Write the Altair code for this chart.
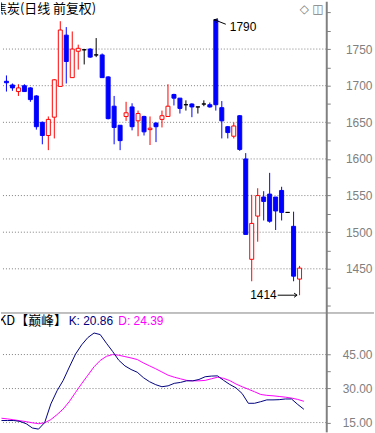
import altair as alt
import pandas as pd
import numpy as np

# ---------------- data ----------------
opens = [1706, 1701, 1692, 1700, 1697, 1686, 1650, 1632, 1657, 1699,
         1769, 1711, 1747, 1749, 1750, 1742, 1742, 1712, 1672, 1646,
         1658, 1671, 1652, 1658, 1640, 1649, 1654, 1658, 1688, 1683,
         1674, 1675, 1671, 1675, 1674, 1790, 1670, 1644, 1631, 1659,
         1600, 1463, 1522, 1548, 1552, 1548, 1557, 1527, 1508, 1436]
highs = [1714, 1703, 1702, 1702, 1698, 1687, 1651, 1658, 1709, 1788,
         1780, 1774, 1756, 1750, 1751, 1765, 1744, 1713, 1686, 1646,
         1678, 1676, 1666, 1659, 1658, 1650, 1666, 1702, 1689, 1683,
         1680, 1676, 1671, 1680, 1677, 1790, 1679, 1645, 1650, 1660,
         1608, 1551, 1560, 1556, 1581, 1548, 1562, 1527, 1528, 1454]
lows = [1692, 1693, 1686, 1692, 1678, 1640, 1620, 1612, 1628, 1699,
        1703, 1711, 1722, 1729, 1738, 1739, 1711, 1654, 1620, 1612,
        1652, 1639, 1631, 1632, 1619, 1623, 1643, 1658, 1673, 1662,
        1666, 1657, 1662, 1672, 1670, 1666, 1628, 1628, 1628, 1611,
        1497, 1433, 1487, 1516, 1513, 1503, 1516, 1527, 1433, 1414]
closes = [1704, 1697, 1697, 1692, 1681, 1644, 1632, 1654, 1708, 1776,
          1733, 1750, 1751, 1749, 1739, 1742, 1711, 1655, 1643, 1625,
          1663, 1644, 1662, 1637, 1642, 1644, 1659, 1672, 1683, 1669,
          1674, 1671, 1671, 1675, 1671, 1674, 1652, 1636, 1645, 1613,
          1497, 1512, 1550, 1542, 1515, 1529, 1527, 1527, 1440, 1451]

k_vals = [15.9, 15.9, 15.9, 15.5, 14.5, 12.6, 12.1, 15.0, 23.2, 29.0,
          33.6, 39.5, 45.2, 49.3, 52.5, 54.5, 53.8, 50.0, 46.4, 42.5,
          40.0, 38.4, 37.2, 34.8, 33.0, 31.7, 30.8, 31.2, 32.3, 32.7,
          33.4, 33.4, 34.0, 35.2, 35.5, 35.6, 33.6, 31.8, 30.3, 27.8,
          23.5, 23.5, 24.2, 25.0, 25.0, 25.1, 25.4, 25.4, 23.0, 20.86]
d_vals = [16.9, 16.6, 16.2, 15.8, 15.4, 14.9, 14.5, 14.9, 16.3, 18.5,
          21.0, 24.3, 28.3, 32.2, 35.9, 39.6, 42.4, 44.2, 45.0, 44.7,
          44.1, 43.5, 42.8, 41.3, 40.0, 38.7, 37.3, 35.9, 35.0, 34.3,
          33.6, 33.4, 33.4, 33.6, 34.3, 35.0, 34.5, 33.5, 32.0, 30.8,
          29.7, 28.6, 27.4, 27.0, 26.8, 26.5, 26.2, 25.8, 25.2, 24.39]

price_ticks = [1400, 1425, 1450, 1475, 1500, 1525, 1550, 1575, 1600, 1625,
               1650, 1675, 1700, 1725, 1750, 1775, 1800]
price_grid = [1450, 1500, 1550, 1600, 1650, 1700, 1750]
kd_ticks = [15, 22.5, 30, 37.5, 45]
kd_grid = [15, 30, 45]

title_text = "焦炭(日线 前复权)"
kd_name = "KD【巅峰】"
k_label = "K: 20.86"
d_label = "D: 24.39"
high_idx, high_val, high_txt = 35, 1790, "1790"
low_idx, low_val, low_txt = 49, 1414, "1414"

# ---------------- frames ----------------
df = pd.DataFrame({"i": list(range(len(opens))), "open": opens, "high": highs,
                   "low": lows, "close": closes, "k": k_vals, "d": d_vals})
df["dir"] = np.where(df["close"] > df["open"], "up",
                     np.where(df["close"] < df["open"], "down", "flat"))

GRAY = "#808080"
W = 327
H1 = 313
H2 = 120

xscale = alt.Scale(domain=[-0.0806, 52.63], nice=False, zero=False)
pscale = alt.Scale(domain=[1390.4, 1815.4], nice=False, zero=False)
kscale = alt.Scale(domain=[10.9, 63.55], nice=False, zero=False)
stroke_scale = alt.Scale(domain=["up", "down", "flat"], range=["#ff0000", "#0000ff", "#000000"])
fill_scale = alt.Scale(domain=["up", "down", "flat"], range=["#ffffff", "#0000ff", "#000000"])

axis_common = dict(orient="right", grid=False, title=None, domainColor=GRAY, domainWidth=2,
                   tickColor=GRAY, tickSize=4, tickWidth=1, labelColor=GRAY,
                   labelFont="Liberation Sans", labelFontSize=12, labelAlign="right",
                   labelBaseline="middle", labelPadding=42, labelFlush=False,
                   labelOverlap=False)
price_axis = alt.Axis(values=price_ticks,
                      labelExpr="(datum.value % 50 == 0 && datum.value >= 1450 && datum.value <= 1750) ? datum.label : ''",
                      format="d", **axis_common)
kd_axis = alt.Axis(values=kd_ticks,
                   labelExpr="(datum.value % 15 == 0) ? format(datum.value, '.2f') : ''",
                   **axis_common)

X = alt.X("i:Q", scale=xscale, axis=None)


def PY(f):
    return alt.Y(f, type="quantitative", scale=pscale, axis=price_axis)


def KY(f):
    return alt.Y(f, type="quantitative", scale=kscale, axis=kd_axis)


# ---------------- price panel ----------------
pgrid = alt.Chart(pd.DataFrame({"v": price_grid})).mark_rule(
    color=GRAY, strokeDash=[1, 2], strokeWidth=1).encode(y=PY("v"))

wicks = alt.Chart(df).mark_rule(strokeWidth=1, clip=True).encode(
    x=X, y=PY("low"), y2="high",
    color=alt.Color("dir:N", scale=stroke_scale, legend=None))

bodies = alt.Chart(df).mark_bar(size=4, strokeWidth=1, clip=True).encode(
    x=X, y=PY("open"), y2="close",
    fill=alt.Fill("dir:N", scale=fill_scale, legend=None),
    stroke=alt.Stroke("dir:N", scale=stroke_scale, legend=None))

hi_df = pd.DataFrame({"i": [high_idx], "v": [high_val], "t": [high_txt]})
lo_df = pd.DataFrame({"i": [low_idx], "v": [low_val], "t": [low_txt]})

hi_line = alt.Chart(hi_df).mark_rule(color="black", strokeWidth=1, xOffset=-1.5,
                                     x2Offset=10, y2Offset=4.5).encode(
    x=X, x2="i:Q", y=PY("v"), y2="v:Q")
hi_head = alt.Chart(hi_df).mark_point(shape="M1,-0.7L0,0L1,0.7", filled=False, color="black",
                                      strokeWidth=1, size=36, angle=20, xOffset=-1.5, opacity=1).encode(
    x=X, y=PY("v"))
hi_text = alt.Chart(hi_df).mark_text(align="left", baseline="middle", dx=14, dy=7,
                                     font="Liberation Sans", fontSize=12, color="black").encode(
    x=X, y=PY("v"), text="t:N")

lo_line = alt.Chart(lo_df).mark_rule(color="black", strokeWidth=1, xOffset=-22,
                                     x2Offset=-2.5).encode(
    x=X, x2="i:Q", y=PY("v"), y2="v:Q")
lo_head = alt.Chart(lo_df).mark_point(shape="M-1,-0.7L0,0L-1,0.7", filled=False, color="black",
                                      strokeWidth=1, size=36, xOffset=-2.5, opacity=1).encode(
    x=X, y=PY("v"))
lo_text = alt.Chart(lo_df).mark_text(align="right", baseline="middle", dx=-23, dy=0,
                                     font="Liberation Sans", fontSize=12, color="black").encode(
    x=X, y=PY("v"), text="t:N")

title = alt.Chart(pd.DataFrame({"t": [title_text]})).mark_text(
    align="left", baseline="middle", font="Noto Sans CJK SC", fontSize=13,
    color="black", clip=True).encode(x=alt.value(-7), y=alt.value(8), text="t:N")

icons = alt.Chart(pd.DataFrame({"t": ["◇", "◫"], "px": [305, 318.5]})).mark_text(
    align="center", baseline="middle", font="DejaVu Sans", fontSize=12, color=GRAY).encode(
    x=alt.X("px:Q", scale=None), y=alt.value(8), text="t:N")

price = alt.layer(pgrid, wicks, bodies, hi_line, hi_head, hi_text,
                  lo_line, lo_head, lo_text, title, icons).properties(width=W, height=H1)

# ---------------- KD panel ----------------
kgrid = alt.Chart(pd.DataFrame({"v": kd_grid})).mark_rule(
    color=GRAY, strokeDash=[1, 2], strokeWidth=1).encode(y=KY("v"))
d_line = alt.Chart(df).mark_line(color="#ff00ff", strokeWidth=1, clip=True).encode(x=X, y=KY("d"))
k_line = alt.Chart(df).mark_line(color="#000080", strokeWidth=1, clip=True).encode(x=X, y=KY("k"))

sep = alt.Chart(pd.DataFrame({"a": [0]})).mark_rule(color=GRAY, strokeWidth=1).encode(
    x=alt.value(0), x2=alt.value(375), y=alt.value(0.5))

name_txt = alt.Chart(pd.DataFrame({"t": [kd_name]})).mark_text(
    align="left", baseline="middle", font="Noto Sans CJK SC", fontSize=13,
    color="black", clip=True).encode(x=alt.value(-3), y=alt.value(8.5), text="t:N")
k_txt = alt.Chart(pd.DataFrame({"t": [k_label]})).mark_text(
    align="left", baseline="middle", font="Liberation Sans", fontSize=12,
    color="#000080").encode(x=alt.value(68), y=alt.value(8.5), text="t:N")
d_txt = alt.Chart(pd.DataFrame({"t": [d_label]})).mark_text(
    align="left", baseline="middle", font="Liberation Sans", fontSize=12,
    color="#ff00ff").encode(x=alt.value(118), y=alt.value(8.5), text="t:N")

kd = alt.layer(kgrid, d_line, k_line, sep, name_txt, k_txt, d_txt).properties(width=W, height=H2)

chart = alt.vconcat(price, kd, spacing=0, bounds="flush").properties(
    padding=0, background="white").configure_view(stroke=None)

chart.save("out.html", embed_options={"renderer": "svg", "actions": False})
